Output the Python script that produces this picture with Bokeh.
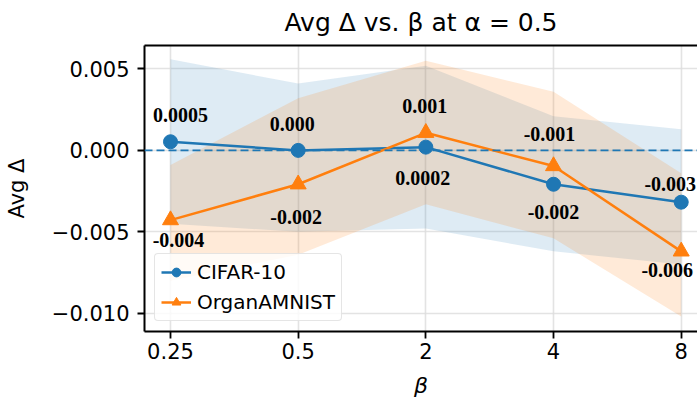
from bokeh.plotting import figure
from bokeh.models import (ColumnDataSource, Range1d, FixedTicker, CustomJSTickFormatter,
                          Span, LinearAxis)
from bokeh.core.properties import value
from bokeh.embed import file_html
from bokeh.resources import INLINE

# ---- data ----
beta_labels = ["0.25", "0.5", "2", "4", "8"]

cifar_mean = [0.00053, 0.0, 0.0002, -0.00208, -0.00318]
cifar_upper = [0.0056, 0.0041, 0.0052, 0.0021, 0.0013]
cifar_lower = [-0.0045, -0.0050, -0.0048, -0.0062, -0.0070]
cifar_text = ["0.0005", "0.000", "0.0002", "-0.002", "-0.003"]

organ_mean = [-0.00428, -0.00208, 0.00108, -0.00096, -0.0062]
organ_upper = [-0.0009, 0.0032, 0.0055, 0.0036, -0.0014]
organ_lower = [-0.0080, -0.0064, -0.0033, -0.0054, -0.0102]
organ_text = ["-0.004", "-0.002", "0.001", "-0.001", "-0.006"]

y_ticks = [-0.010, -0.005, 0.0, 0.005]

# ---- label placement (style, pixels) ----
cifar_dx = [10, -6, -3, 0, -11]
cifar_dy = [-27, -26, 31, 28, -18]
organ_dx = [8, -2, -1, -4, -14]
organ_dy = [20, 33, -27, -32, 19]

BLUE = "#1f77b4"
ORANGE = "#ff7f0e"
FONT = "DejaVu Sans"

idx = list(range(len(beta_labels)))

cifar_src = ColumnDataSource(dict(x=idx, y=cifar_mean, lo=cifar_lower, hi=cifar_upper,
                                  text=cifar_text, dx=cifar_dx, dy=cifar_dy))
organ_src = ColumnDataSource(dict(x=idx, y=organ_mean, lo=organ_lower, hi=organ_upper,
                                  text=organ_text, dx=organ_dx, dy=organ_dy))

p = figure(width=697, height=404, output_backend="svg", toolbar_location=None,
           x_range=Range1d(-0.2036, 4.1276), y_range=Range1d(-0.01112, 0.00644),
           min_border_left=144, min_border_right=0, min_border_top=44, min_border_bottom=73)

p.title.text = "Avg \u0394 vs. \u03b2 at \u03b1 = 0.5"
p.title.text_font = FONT
p.title.text_font_size = "25px"
p.title.text_font_style = "normal"
p.title.align = "center"
p.title.text_color = "black"
p.title.standoff = 14
p.title.vertical_align = "top"

p.outline_line_color = None
p.background_fill_color = "white"
p.border_fill_color = "white"

# bands
p.varea(x="x", y1="lo", y2="hi", source=cifar_src, fill_color=BLUE, fill_alpha=0.15)
p.varea(x="x", y1="lo", y2="hi", source=organ_src, fill_color=ORANGE, fill_alpha=0.16)

# zero reference line
p.add_layout(Span(location=0, dimension="width", line_color=BLUE, line_width=1.8,
                  line_dash="8 4"))

# lines and markers
p.line("x", "y", source=cifar_src, line_color=BLUE, line_width=2.5, legend_label="CIFAR-10")
p.scatter("x", "y", source=cifar_src, marker="circle", size=14, fill_color=BLUE,
          line_color=BLUE, legend_label="CIFAR-10")
p.line("x", "y", source=organ_src, line_color=ORANGE, line_width=2.5, legend_label="OrganAMNIST")
p.scatter("x", "y", source=organ_src, marker="triangle", size=16, fill_color=ORANGE,
          line_color=ORANGE, legend_label="OrganAMNIST")

# value labels
for src in (cifar_src, organ_src):
    p.text("x", "y", text="text", source=src, x_offset="dx", y_offset="dy",
           text_align="center", text_baseline="middle",
           text_font=value("Liberation Serif"), text_font_style="bold",
           text_font_size="20px", text_color="black")

# axes
xa = p.xaxis[0]
xa.ticker = FixedTicker(ticks=idx)
xa.major_label_overrides = {i: lab for i, lab in zip(idx, beta_labels)}
xa.axis_label = "\u03b2"
xa.axis_label_text_font = FONT
xa.axis_label_text_font_style = "italic"
xa.axis_label_text_font_size = "22px"
xa.axis_label_text_color = "black"
xa.axis_label_standoff = 11
xa.major_label_standoff = 4

ya = p.yaxis[0]
ya.ticker = FixedTicker(ticks=y_ticks)
ya.formatter = CustomJSTickFormatter(code="return tick.toFixed(3).replace('-', '\u2212');")
ya.axis_label = "Avg \u0394"
ya.axis_label_text_font = FONT
ya.axis_label_text_font_style = "normal"
ya.axis_label_text_font_size = "21px"
ya.axis_label_text_color = "black"
ya.axis_label_standoff = 20
ya.major_label_standoff = 8

for ax in (xa, ya):
    ax.major_label_text_font = FONT
    ax.major_label_text_font_size = "21px"
    ax.major_label_text_color = "black"
    ax.axis_line_color = "black"
    ax.axis_line_width = 2
    ax.major_tick_line_color = "black"
    ax.major_tick_line_width = 1.8
    ax.major_tick_out = 7
    ax.major_tick_in = 0
    ax.minor_tick_line_color = None

# top frame line
top = LinearAxis(ticker=FixedTicker(ticks=[]), major_label_text_font_size="0px",
                 major_tick_line_color=None, minor_tick_line_color=None,
                 axis_line_color="black", axis_line_width=2, major_label_standoff=0)
p.add_layout(top, "above")

# grid
for g in (p.xgrid[0], p.ygrid[0]):
    g.grid_line_color = "#dcdcdc"
    g.grid_line_width = 1.6
    g.grid_line_alpha = 0.8

# legend
lg = p.legend[0]
lg.location = "bottom_left"
lg.label_text_font = FONT
lg.label_text_font_size = "20px"
lg.label_text_color = "black"
lg.glyph_width = 30
lg.glyph_height = 22
lg.label_height = 22
lg.spacing = 6
lg.padding = 6
lg.margin = 10
lg.label_standoff = 6
lg.border_line_color = "#cccccc"
lg.border_line_width = 1.5
lg.border_radius = 4
lg.background_fill_alpha = 0.8

open("out.html", "w").write(file_html(p, INLINE))
